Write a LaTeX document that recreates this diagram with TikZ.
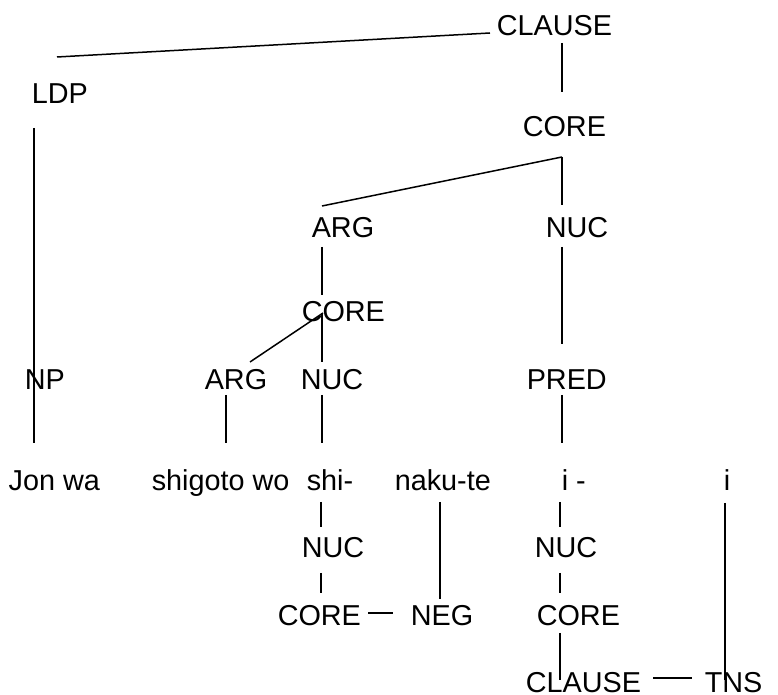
\documentclass[tikz,border=0pt]{standalone}
\usepackage{fontspec}
\setmainfont{Liberation Sans}
\newcommand\lnk[6]{\draw ([shift={(#2pt,#3pt)}]#1.base west) -- ([shift={(#5pt,#6pt)}]#4.base west);}
\begin{document}
\begin{tikzpicture}[x=1pt,y=1pt,
  txt/.style={anchor=base west, inner sep=0pt, font=\fontsize{28.8}{30}\selectfont},
  every path/.style={line width=1.5pt}]
\useasboundingbox (0,0) rectangle (778,695);
\node[txt] (clause0) at (496,695-36) {CLAUSE};
\node[txt] (ldp) at (31,695-104) {LDP};
\node[txt] (core0) at (522,695-137) {CORE};
\node[txt] (arg1) at (311,695-238) {ARG};
\node[txt] (nuc1) at (545,695-238) {NUC};
\node[txt] (core1) at (301,695-322) {CORE};
\node[txt] (np) at (24,695-390) {NP};
\node[txt] (arg2) at (204,695-390) {ARG};
\node[txt] (nuc2) at (300,695-390) {NUC};
\node[txt] (pred) at (526,695-390) {PRED};
\node[txt] (jon) at (8,695-491) {Jon wa};
\node[txt] (shigoto) at (151,695-491) {shigoto wo};
\node[txt] (shi) at (306,695-491) {shi-};
\node[txt] (naku) at (394,695-491) {naku-te};
\node[txt] (ii) at (561,695-491) {i -};
\node[txt] (iend) at (723,695-491) {i};
\node[txt] (nuc3) at (301,695-558) {NUC};
\node[txt] (core3) at (277,695-626) {CORE};
\node[txt] (neg) at (410,695-626) {NEG};
\node[txt] (nuc4) at (534,695-558) {NUC};
\node[txt] (core4) at (536,695-626) {CORE};
\node[txt] (clause4) at (525,695-693) {CLAUSE};
\node[txt] (tns) at (704,695-693) {TNS};
\lnk{clause0}{-6}{3}{ldp}{26}{47}
\lnk{clause0}{66}{-7}{core0}{40}{45}
\lnk{core0}{40}{-20}{arg1}{11}{32}
\lnk{core0}{40}{-20}{nuc1}{17}{33}
\lnk{ldp}{3}{-24}{jon}{26}{48}
\lnk{arg1}{11}{-9}{core1}{21}{27}
\lnk{core1}{22}{9}{arg2}{46}{28}
\lnk{core1}{21}{9}{nuc2}{22}{28}
\lnk{nuc1}{17}{-9}{pred}{36}{46}
\lnk{arg2}{22}{-5}{shigoto}{75}{48}
\lnk{nuc2}{22}{-5}{shi}{16}{48}
\lnk{pred}{36}{-5}{ii}{1}{48}
\lnk{shi}{15}{-11}{nuc3}{20}{31}
\lnk{nuc3}{20}{-15}{core3}{44}{33}
\lnk{core3}{91}{13}{neg}{-17}{13}
\lnk{naku}{46}{-11}{neg}{30}{27}
\lnk{ii}{-1}{-11}{nuc4}{26}{31}
\lnk{nuc4}{26}{-15}{core4}{24}{33}
\lnk{core4}{24}{-7}{clause4}{35}{13}
\lnk{clause4}{128}{15}{tns}{-12}{15}
\lnk{iend}{2}{-12}{tns}{21}{13}
\end{tikzpicture}
\end{document}
